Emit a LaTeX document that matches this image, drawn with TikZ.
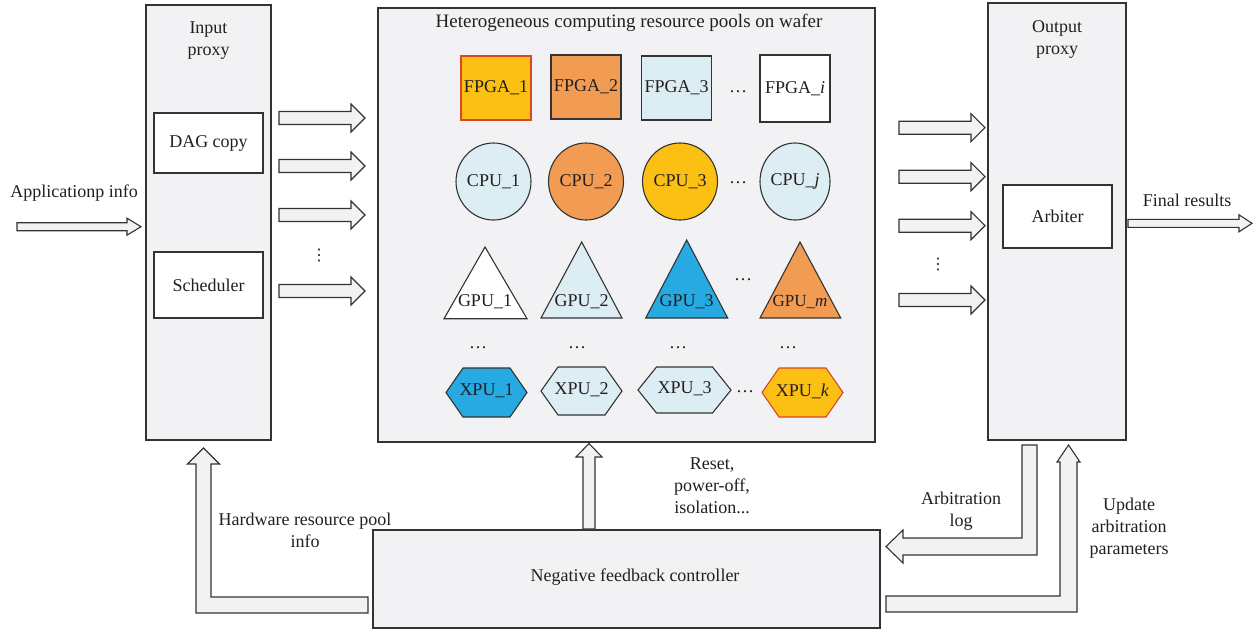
\documentclass[tikz,border=0pt]{standalone}
\usepackage{fontspec}
\setmainfont{Liberation Serif}
\newfontfamily\symfont{DejaVu Sans}
\usetikzlibrary{calc,shapes.geometric}
\definecolor{panel}{HTML}{F2F2F4}
\definecolor{edge}{HTML}{333333}
\definecolor{ink}{HTML}{231F20}
\definecolor{cyel}{HTML}{FCBF14}
\definecolor{corg}{HTML}{F29C53}
\definecolor{clb}{HTML}{DDEDF4}
\definecolor{cblu}{HTML}{27A9E1}
\definecolor{cred}{HTML}{D9472B}
% horizontal fat arrow: from, to, shaft half, head half, head length
\newcommand\fatH[5]{%
 \filldraw[fat] let \p1=(#1), \p2=(#2) in
  (\x1,\y1+#3pt) -- (\x2-#5pt,\y1+#3pt) -- (\x2-#5pt,\y1+#4pt) -- (\x2,\y1)
  -- (\x2-#5pt,\y1-#4pt) -- (\x2-#5pt,\y1-#3pt) -- (\x1,\y1-#3pt) -- cycle;}
% vertical (upward) fat arrow: from (bottom), to (tip), shaft half, head half, head length
\newcommand\fatV[5]{%
 \filldraw[fat] let \p1=(#1), \p2=(#2) in
  (\x1-#3pt,\y1) -- (\x1-#3pt,\y2-#5pt) -- (\x1-#4pt,\y2-#5pt) -- (\x1,\y2)
  -- (\x1+#4pt,\y2-#5pt) -- (\x1+#3pt,\y2-#5pt) -- (\x1+#3pt,\y1) -- cycle;}
\begin{document}
\begin{tikzpicture}[x=1pt,y=-1pt,
  font=\fontsize{18}{22}\selectfont, text=ink,
  panelbox/.style={draw=edge, line width=1.1pt, fill=panel, inner sep=0pt},
  whitebox/.style={draw=edge, line width=1.1pt, fill=white, inner sep=0pt},
  unit/.style={draw=edge, line width=1.1pt, inner sep=0pt, minimum width=70pt, minimum height=64pt},
  cpu/.style={ellipse, draw=edge, line width=1.1pt, inner sep=0pt, minimum width=70pt, minimum height=77pt},
  shp/.style={draw=edge, line width=1.1pt},
  fat/.style={draw=edge, line width=1.1pt, fill=panel, line join=miter},
  lbl/.style={align=center, inner sep=0pt},
  dots/.style={inner sep=0pt},
  vdots/.style={inner sep=0pt, font=\symfont\fontsize{16}{16}\selectfont}]
\useasboundingbox (0,0) rectangle (1257,630);

% main panels
\node[panelbox, minimum width=125pt, minimum height=435pt] (inproxy) at (208.5,222.5) {};
\node[panelbox, minimum width=497pt, minimum height=434pt] (pool) at (626.5,225) {};
\node[panelbox, minimum width=138pt, minimum height=437pt] (outproxy) at (1057,221.5) {};
\node[panelbox, minimum width=507pt, minimum height=98pt] (ctrl) at (626.5,579) {};

\node[lbl] (inlbl) at (208.5,41) {Input\\proxy};
\node[lbl] (outlbl) at (1057,39) {Output\\proxy};
\node[lbl, font=\fontsize{19}{22}\selectfont] (pooltitle) at (629,23) {Heterogeneous computing resource pools on wafer};
\node[lbl] (ctrllbl) at (635,577) {Negative feedback controller};

\node[whitebox, minimum width=109pt, minimum height=60pt] (dag) at (208.5,143) {DAG copy};
\node[whitebox, minimum width=109pt, minimum height=66pt] (sched) at (208.5,285) {Scheduler};
\node[whitebox, minimum width=109pt, minimum height=63pt] (arb) at (1057.5,216.5) {Arbiter};

% FPGA row
\node[unit, fill=cyel, draw=cred] (fpga1) at (496,88) {FPGA\_1};
\node[unit, fill=corg] (fpga2) at (586,87) {FPGA\_2};
\node[unit, fill=clb] (fpga3) at (676.5,88) {FPGA\_3};
\node[dots] (fdots) at (738,92) {\dots};
\node[unit, fill=white, minimum height=67pt] (fpgai) at (795,88.5) {FPGA\_\textit{i}};

% CPU row
\node[cpu, fill=clb] (cpu1) at (493.5,181.5) {CPU\_1};
\node[cpu, fill=corg] (cpu2) at (586,181.5) {CPU\_2};
\node[cpu, fill=cyel] (cpu3) at (680,181.5) {CPU\_3};
\node[dots] (cdots) at (738,183) {\dots};
\node[cpu, fill=clb] (cpuj) at (795,181.5) {CPU\_\textit{j}};

% GPU row
\filldraw[shp, fill=white] (444,318.7) -- (485,247) -- (527,318.7) -- cycle;
\filldraw[shp, fill=clb] (541,318) -- (581.7,242) -- (622,318) -- cycle;
\filldraw[shp, fill=cblu] (645.7,318) -- (686.7,240) -- (727.7,318) -- cycle;
\filldraw[shp, fill=corg] (760,318) -- (800,242) -- (840.7,318) -- cycle;
\node[lbl] (gpu1) at (485,302) {GPU\_1};
\node[lbl] (gpu2) at (581.7,302) {GPU\_2};
\node[lbl] (gpu3) at (686.7,302) {GPU\_3};
\node[lbl, font=\fontsize{17}{20}\selectfont] (gpum) at (800,302) {GPU\_\textit{m}};
\node[dots] (gdots) at (743,280) {\dots};

% middle dots row
\node[dots] (r1) at (478,348) {…};
\node[dots] (r2) at (577,348) {…};
\node[dots] (r3) at (678,348) {…};
\node[dots] (r4) at (788,348) {…};

% XPU row
\filldraw[shp, fill=cblu] (446,392.5) -- (463,368) -- (510,368) -- (527,392.5) -- (510,417) -- (463,417) -- cycle;
\filldraw[shp, fill=clb] (541,391) -- (558,367) -- (605,367) -- (622,391) -- (605,415) -- (558,415) -- cycle;
\filldraw[shp, fill=clb] (638,390) -- (656.5,367) -- (712.5,367) -- (731,390) -- (712.5,413) -- (656.5,413) -- cycle;
\filldraw[shp, fill=cyel, draw=cred] (762,392.5) -- (779,368) -- (826,368) -- (843,392.5) -- (826,417) -- (779,417) -- cycle;
\node[lbl] (xpu1) at (486.5,391) {XPU\_1};
\node[lbl] (xpu2) at (581.5,389.5) {XPU\_2};
\node[lbl] (xpu3) at (684.5,388.5) {XPU\_3};
\node[lbl] (xpuk) at (802.5,391) {XPU\_\textit{k}};
\node[dots] (xdots) at (745,392) {…};

% input side
\node[lbl] (applbl) at (74,193) {Applicationp info};
\coordinate (appA) at (17,226.7);
\coordinate (appB) at (141,226.7);
\fatH{appA}{appB}{4}{8.5}{14}

\foreach \i/\y in {1/118,2/166,3/215,4/291}{
  \coordinate (ia\i) at (279,\y);
  \coordinate (ib\i) at (365,\y);
  \fatH{ia\i}{ib\i}{6.5}{14}{14}
}
\node[vdots] (ivd) at (319,256) {⋮};

% output side
\foreach \i/\y in {1/127.7,2/176.7,3/225.7,4/300}{
  \coordinate (oa\i) at (899,\y);
  \coordinate (ob\i) at (985,\y);
  \fatH{oa\i}{ob\i}{6.5}{14}{14}
}
\node[vdots] (ovd) at (938,265) {⋮};

\node[lbl] (finlbl) at (1187,200) {Final results};
\coordinate (finA) at (1128,223.3);
\coordinate (finB) at (1252,223.3);
\fatH{finA}{finB}{4}{8.5}{13}

% reset arrow
\coordinate (rsA) at (589,529);
\coordinate (rsB) at (589,443.5);
\fatV{rsA}{rsB}{6}{13}{13.5}
\node[lbl] (rslbl) at (712,486) {Reset,\\power-off,\\isolation...};

% hardware resource pool info (elbow)
\coordinate (hwA) at (368,605);
\coordinate (hwB) at (203.5,448);
\filldraw[fat] let \p1=(hwA), \p2=(hwB) in
  (\x1,\y1+8pt) -- (\x2+7.5pt,\y1+8pt) -- (\x2+7.5pt,\y2-16pt) -- (\x2+16pt,\y2-16pt)
  -- (\x2,\y2) -- (\x2-16pt,\y2-16pt) -- (\x2-7.5pt,\y2-16pt) -- (\x2-7.5pt,\y1-8pt)
  -- (\x1,\y1-8pt) -- cycle;
\node[lbl] (hwlbl) at (305,530) {Hardware resource pool\\info};

% arbitration log (elbow)
\coordinate (alA) at (1029.5,445);
\coordinate (alB) at (886,546.5);
\filldraw[fat] let \p1=(alA), \p2=(alB) in
  (\x1-7.5pt,\y1) -- (\x1+7.5pt,\y1) -- (\x1+7.5pt,\y2-8.5pt) -- (\x2+17pt,\y2-8.5pt)
  -- (\x2+17pt,\y2-16.5pt) -- (\x2,\y2) -- (\x2+17pt,\y2+16.5pt) -- (\x2+17pt,\y2+8.5pt)
  -- (\x1-7.5pt,\y2+8.5pt) -- cycle;
\node[lbl] (allbl) at (961,511) {Arbitration\\log};

% update arbitration parameters (elbow)
\coordinate (upA) at (886,604);
\coordinate (upB) at (1068.5,445);
\filldraw[fat] let \p1=(upA), \p2=(upB) in
  (\x1,\y1+8pt) -- (\x2-8.5pt,\y1+8pt) -- (\x2-8.5pt,\y2-17pt) -- (\x2-11.5pt,\y2-17pt)
  -- (\x2,\y2) -- (\x2+11.5pt,\y2-17pt) -- (\x2+8.5pt,\y2-17pt) -- (\x2+8.5pt,\y1-8pt)
  -- (\x1,\y1-8pt) -- cycle;
\node[lbl] (uplbl) at (1129,528) {Update\\arbitration\\parameters};
\end{tikzpicture}
\end{document}
